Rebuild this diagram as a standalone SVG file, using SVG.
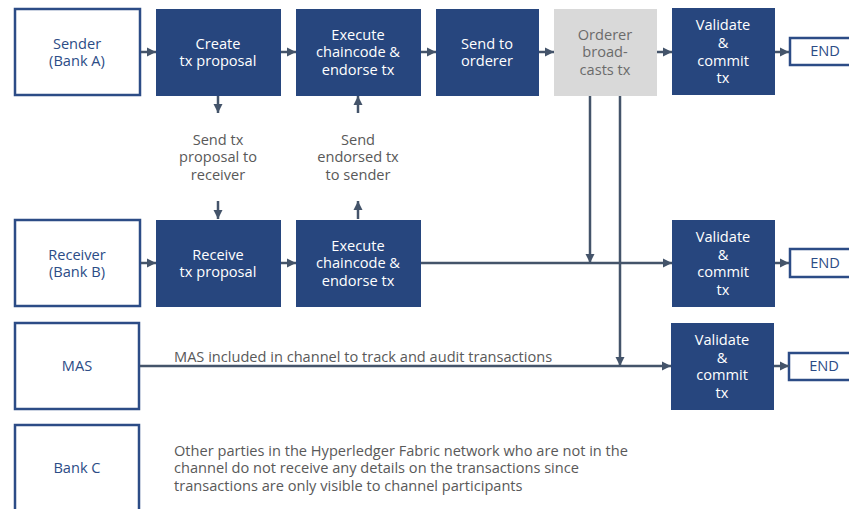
<svg xmlns="http://www.w3.org/2000/svg" width="849" height="509" viewBox="0 0 849 509">
  <style>
    .party { fill: #ffffff; stroke: #2c4c86; stroke-width: 2.5; }
    .step { fill: #27467e; }
    .grey { fill: #d9d9d9; }
    text { font-family: "Open Sans", "Noto Sans", sans-serif; font-size: 14.6px; text-anchor: middle; }
    .pt { fill: #2c4c86; }
    .st { fill: #ffffff; }
    .gt { fill: #6b6b6b; }
    .lt { fill: #595959; }
    .note { fill: #595959; text-anchor: start; }
    .conn { stroke: #44546a; stroke-width: 2.5; fill: none; marker-end: url(#arrow); }
  </style>
  <defs>
    <marker id="arrow" viewBox="0 0 10 10" refX="10" refY="5" markerWidth="9" markerHeight="10" markerUnits="userSpaceOnUse" orient="auto">
      <path d="M0,0 L10,5 L0,10 Z" fill="#44546a"/>
    </marker>
  </defs>

  <!-- Sender lane -->
  <g id="sender"><rect class="party" x="15" y="9" width="125" height="86"/>
    <text class="pt" x="77" y="49">Sender</text><text class="pt" x="77" y="66">(Bank A)</text></g>
  <g id="create-proposal"><rect class="step" x="156" y="9" width="125" height="87"/>
    <text class="st" x="218" y="49">Create</text><text class="st" x="218" y="66">tx proposal</text></g>
  <g id="execute-sender"><rect class="step" x="296" y="9" width="125" height="87"/>
    <text class="st" x="358" y="40">Execute</text><text class="st" x="358" y="57">chaincode &amp;</text><text class="st" x="358" y="75">endorse tx</text></g>
  <g id="send-orderer"><rect class="step" x="436" y="9" width="103" height="87"/>
    <text class="st" x="487" y="49">Send to</text><text class="st" x="487" y="66">orderer</text></g>
  <g id="orderer"><rect class="grey" x="554" y="9" width="103" height="87"/>
    <text class="gt" x="605" y="40">Orderer</text><text class="gt" x="605" y="57">broad-</text><text class="gt" x="605" y="75">casts tx</text></g>
  <g id="validate-sender"><rect class="step" x="672" y="8" width="103" height="87"/>
    <text class="st" x="723" y="30">Validate</text><text class="st" x="723" y="48">&amp;</text><text class="st" x="723" y="66">commit</text><text class="st" x="723" y="83">tx</text></g>
  <g id="end-sender"><rect class="party" x="790" y="38" width="72" height="27"/>
    <text class="pt" x="825" y="56">END</text></g>

  <!-- Message labels -->
  <g id="label-send-proposal">
    <text class="lt" x="218" y="145">Send tx</text><text class="lt" x="218" y="162">proposal to</text><text class="lt" x="218" y="180">receiver</text></g>
  <g id="label-send-endorsed">
    <text class="lt" x="358" y="145">Send</text><text class="lt" x="358" y="162">endorsed tx</text><text class="lt" x="358" y="180">to sender</text></g>

  <!-- Receiver lane -->
  <g id="receiver"><rect class="party" x="15" y="220" width="125" height="86"/>
    <text class="pt" x="77" y="260">Receiver</text><text class="pt" x="77" y="277">(Bank B)</text></g>
  <g id="receive-proposal"><rect class="step" x="156" y="220" width="125" height="87"/>
    <text class="st" x="218" y="260">Receive</text><text class="st" x="218" y="277">tx proposal</text></g>
  <g id="execute-receiver"><rect class="step" x="296" y="220" width="125" height="87"/>
    <text class="st" x="358" y="251">Execute</text><text class="st" x="358" y="268">chaincode &amp;</text><text class="st" x="358" y="286">endorse tx</text></g>
  <g id="validate-receiver"><rect class="step" x="672" y="220" width="103" height="87"/>
    <text class="st" x="723" y="242">Validate</text><text class="st" x="723" y="260">&amp;</text><text class="st" x="723" y="277">commit</text><text class="st" x="723" y="295">tx</text></g>
  <g id="end-receiver"><rect class="party" x="790" y="249" width="72" height="28"/>
    <text class="pt" x="825" y="268">END</text></g>

  <!-- MAS lane -->
  <g id="mas"><rect class="party" x="15" y="323" width="124" height="86"/>
    <text class="pt" x="77" y="371">MAS</text></g>
  <g id="validate-mas"><rect class="step" x="671" y="323" width="103" height="87"/>
    <text class="st" x="722" y="345">Validate</text><text class="st" x="722" y="363">&amp;</text><text class="st" x="722" y="380">commit</text><text class="st" x="722" y="398">tx</text></g>
  <g id="end-mas"><rect class="party" x="789" y="353" width="73" height="27"/>
    <text class="pt" x="824" y="371">END</text></g>
  <text class="note" x="174" y="362">MAS included in channel to track and audit transactions</text>

  <!-- Bank C lane -->
  <g id="bank-c"><rect class="party" x="15" y="425" width="124" height="100"/>
    <text class="pt" x="77" y="473">Bank C</text></g>
  <g id="bank-c-note">
    <text class="note" x="174" y="456">Other parties in the Hyperledger Fabric network who are not in the</text>
    <text class="note" x="174" y="473">channel do not receive any details on the transactions since</text>
    <text class="note" x="174" y="491">transactions are only visible to channel participants</text></g>

  <!-- Connectors -->
  <g id="connectors">
    <line class="conn" x1="141" y1="52" x2="156" y2="52"/>
    <line class="conn" x1="281" y1="52" x2="296" y2="52"/>
    <line class="conn" x1="421" y1="52" x2="436" y2="52"/>
    <line class="conn" x1="539" y1="52" x2="554" y2="52"/>
    <line class="conn" x1="657" y1="52" x2="672" y2="52"/>
    <line class="conn" x1="775" y1="52" x2="789" y2="52"/>

    <line class="conn" x1="218" y1="96" x2="218" y2="113"/>
    <line class="conn" x1="358" y1="113" x2="358" y2="96"/>
    <line class="conn" x1="218" y1="201" x2="218" y2="219"/>
    <line class="conn" x1="358" y1="219" x2="358" y2="201"/>

    <line class="conn" x1="141" y1="263" x2="156" y2="263"/>
    <line class="conn" x1="281" y1="263" x2="296" y2="263"/>
    <line class="conn" x1="421" y1="263" x2="672" y2="263"/>
    <line class="conn" x1="775" y1="263" x2="789" y2="263"/>

    <line class="conn" x1="590" y1="96" x2="590" y2="263"/>
    <line class="conn" x1="620" y1="96" x2="620" y2="366"/>

    <line class="conn" x1="140" y1="366" x2="671" y2="366"/>
    <line class="conn" x1="774" y1="366" x2="789" y2="366"/>
  </g>
</svg>
